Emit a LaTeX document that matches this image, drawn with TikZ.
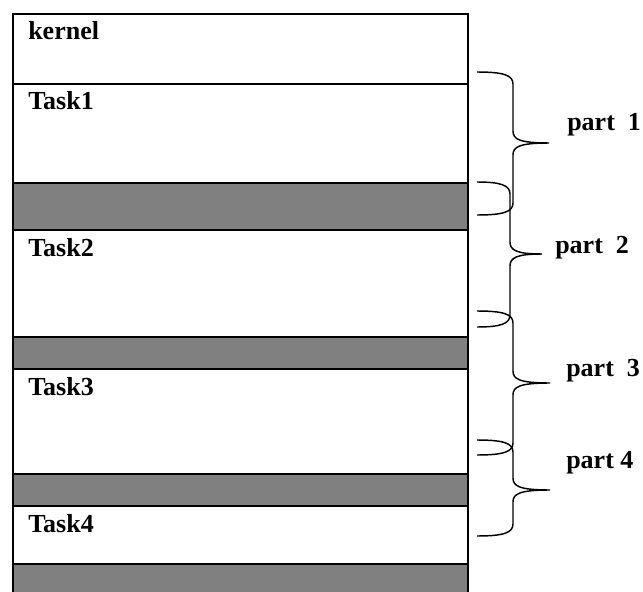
\documentclass[tikz,border=0pt]{standalone}
\usepackage{fontspec}
\setmainfont{Liberation Serif}
\definecolor{slotgray}{HTML}{808080}

% curly brace: #1 open-end x, #2 stem x, #3 tip x, #4 top y, #5 tip y, #6 bottom y
\newcommand{\memorybrace}[6]{%
  \draw[bracestroke]
    (#1,#4) .. controls (#2-10,#4) and (#2,#4+3) .. (#2,#4+12)
    -- (#2,#5-12) .. controls (#2,#5-4) and (#2+6,#5) .. (#3,#5)
    .. controls (#2+6,#5) and (#2,#5+4) .. (#2,#5+12)
    -- (#2,#6-12) .. controls (#2,#6-3) and (#2-10,#6) .. (#1,#6);}

\begin{document}
\begin{tikzpicture}[x=0.75pt,y=-0.75pt,
  frame/.style={line width=1.9pt},
  slot/.style={fill=slotgray},
  bracestroke/.style={line width=1.1pt},
  rowlabel/.style={font=\fontsize{19.5}{22}\selectfont\bfseries, inner sep=0pt, anchor=base west},
  partlabel/.style={font=\fontsize{19.5}{22}\selectfont\bfseries, inner sep=0pt, anchor=base west}]
\useasboundingbox (0,0) rectangle (643,592);
\clip (0,0) rectangle (643,592);

% reserved (grey) gaps between the regions
\fill[slot] (13,183) rectangle (468,230);
\fill[slot] (13,337) rectangle (468,369);
\fill[slot] (13,474) rectangle (468,506);
\fill[slot] (13,564) rectangle (468,610);

% memory column outline and region boundaries
\draw[frame] (13,610) -- (13,14) -- (468,14) -- (468,610);
\foreach \yy in {84,183,230,337,369,474,506,564}
  \draw[frame] (13,\yy) -- (468,\yy);

% region names
\node[rowlabel] (kernel) at (28,40)  {kernel};
\node[rowlabel] (task1)  at (28,110) {Task1};
\node[rowlabel] (task2)  at (28,256) {Task2};
\node[rowlabel] (task3)  at (28,395) {Task3};
\node[rowlabel] (task4)  at (28,532) {Task4};

% overlapping braces for the parts
\memorybrace{477}{513}{549}{72}{143}{215}
\memorybrace{477}{510}{542}{182}{254}{327}
\memorybrace{477}{513}{550}{311}{383}{455}
\memorybrace{477}{513}{550}{440}{490}{536}

\node[partlabel] (part1) at (567,131) {part~~1};
\node[partlabel] (part2) at (555,253) {part~~2};
\node[partlabel] (part3) at (566,376) {part~~3};
\node[partlabel] (part4) at (566,468) {part 4};
\end{tikzpicture}
\end{document}
